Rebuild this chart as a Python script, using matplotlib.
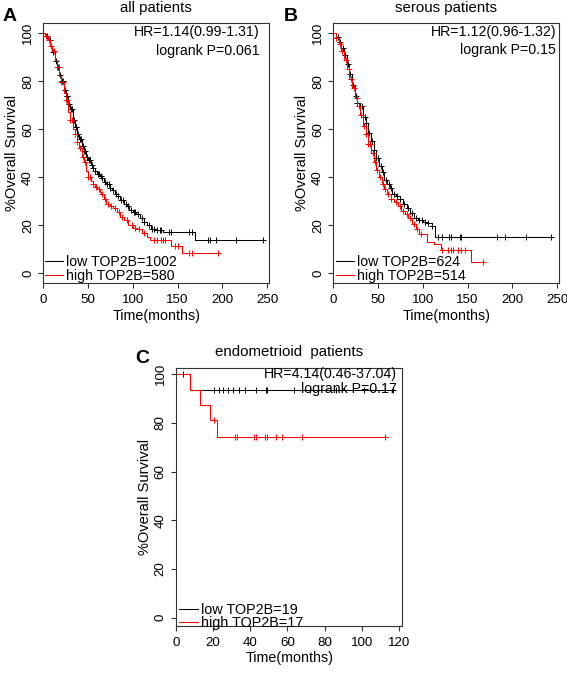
import numpy as np
import matplotlib.pyplot as plt

plt.rcParams['font.family'] = ['Liberation Sans', 'DejaVu Sans']

# ================== data ==================
# A: all patients
a_low_t = [0, 2, 5, 8, 10, 13, 15, 18, 20, 23, 25, 28, 30, 33, 35, 38, 40, 43, 45, 48, 50, 53, 55,
           58, 60, 63, 65, 68, 70, 74, 77, 80, 83, 86, 90, 93, 96, 100, 104, 108, 112, 116, 120,
           126, 134, 169]
a_low_s = [100, 99, 97, 94.5, 92, 88.5, 86, 82.5, 80, 76.5, 74, 70.5, 68.5, 64, 61, 58, 56, 53, 51,
           48.5, 47, 45, 44, 42.5, 41.5, 40.5, 39.5, 38, 37, 35.5, 34.5, 33, 32, 30.5, 29, 28, 26.5,
           25.5, 24.5, 23, 21.5, 20, 18.5, 18, 17, 14]
a_low_end = 246
a_low_cens = [4, 7, 11, 14, 16, 19, 21, 22, 24, 26, 27, 29, 31, 32, 34, 36, 37, 39, 41, 42, 44, 46,
              47, 49, 51, 52, 54, 56, 58, 61, 62, 64, 66, 69, 71, 73, 75, 78, 81, 84, 87, 89, 92,
              95, 98, 101, 103, 106, 110, 113, 118, 121, 124, 127, 130, 132, 140, 143, 163, 166,
              184, 186, 193, 215, 246]

a_high_t = [0, 2, 5, 8, 10, 13, 15, 18, 20, 23, 25, 28, 30, 33, 35, 38, 40, 43, 45, 48, 50, 53, 55,
            58, 60, 63, 65, 68, 70, 74, 78, 82, 86, 90, 95, 100, 104, 110, 116, 119, 143, 155]
a_high_s = [100, 99, 97, 94.5, 92.5, 89, 86, 82, 79.5, 75, 72, 67, 64, 60, 58, 54.5, 52, 48.5, 46.5,
            42.5, 40, 38.5, 37, 36, 35, 34, 33, 31, 29, 28, 27, 25.5, 23.5, 22, 20, 19, 18.5, 16.7,
            15, 13.9, 11.4, 8.6]
a_high_end = 195
a_high_cens = [3, 6, 9, 12, 15, 17, 20, 22, 25, 27, 30, 32, 35, 38, 41, 44, 47, 50, 52, 56, 59, 62,
               66, 69, 72, 76, 80, 85, 88, 93, 99, 103, 107, 112, 124, 127, 131, 134, 136, 147,
               150, 163, 166, 195]

# B: serous patients
b_low_t = [0, 3, 6, 9, 12, 15, 18, 21, 24, 27, 30, 33, 36, 39, 42, 45, 48, 51, 54, 57, 60, 63, 66,
           70, 74, 78, 82, 86, 90, 95, 100, 105, 110, 114]
b_low_s = [100, 98.5, 96.5, 94, 91, 87, 83, 78.5, 74, 71, 69.5, 65, 62.5, 58.5, 55, 51.5, 48, 44.5,
           42, 39, 37, 35.5, 33, 32, 31, 29, 27, 25, 23, 22, 21.5, 21, 19.5, 15.2]
b_low_end = 243
b_low_cens = [5, 8, 11, 13, 16, 19, 22, 25, 27, 30, 32, 35, 37, 40, 43, 45, 48, 50, 53, 56, 59, 62,
              65, 68, 71, 75, 79, 83, 88, 92, 96, 99, 102, 106, 110, 117, 122, 129, 132, 141, 143,
              183, 192, 215, 243]

b_high_t = [0, 3, 6, 9, 12, 15, 18, 21, 24, 27, 30, 33, 36, 39, 42, 45, 48, 51, 54, 57, 60, 64, 68,
            72, 76, 80, 84, 88, 92, 96, 105, 112, 120, 154]
b_high_s = [100, 98, 95.5, 92.5, 89, 85, 81, 77, 73, 69.5, 66, 61.5, 58, 54, 50, 46.5, 43, 40, 37,
            35, 33, 31, 29.5, 28, 26, 24.5, 23, 20.5, 18.5, 16.5, 13, 12, 9.5, 4.8]
b_high_end = 167
b_high_cens = [3, 7, 10, 14, 17, 20, 23, 26, 29, 31, 34, 36, 39, 41, 44, 47, 49, 52, 55, 58, 61, 65,
               70, 74, 78, 82, 86, 90, 94, 98, 121, 128, 131, 134, 139, 143, 147, 167]

# C: endometrioid patients
c_low_t = [0, 7.5]
c_low_s = [100, 93.6]
c_low_end = 117
c_low_cens = [3.6, 20.6, 23.1, 25.5, 28.1, 30.9, 34.1, 37.3, 43.1, 48.3, 48.8, 63.7, 72, 86, 101, 117]

c_high_t = [0, 7.5, 13, 18.3, 22.2]
c_high_s = [100, 93.75, 87.5, 81.25, 74.4]
c_high_end = 112.5
c_high_cens = [20.6, 31.8, 32.7, 42, 42.9, 47.9, 48.8, 53.8, 56.9, 67.7, 112.5]

y_ticks = [0, 20, 40, 60, 80, 100]
x_ticks_ab = [0, 50, 100, 150, 200, 250]
x_ticks_c = [0, 20, 40, 60, 80, 100, 120]

W, H = 567, 675
AXC = '#333333'


def draw_km(ax, t, s, t_end, cens, color, label):
    x = list(t) + [t_end]
    y = list(s) + [s[-1]]
    ax.plot(x, y, drawstyle='steps-post', color=color, lw=0.75, label=label)
    idx = np.searchsorted(t, cens, side='right') - 1
    cy = np.array(s)[idx]
    ax.plot(cens, cy, ls='none', marker='+', ms=4.5, mew=0.7, color=color)


def style_axes(ax, xt, xlim, ylim):
    ax.set_xlim(*xlim)
    ax.set_ylim(*ylim)
    ax.set_xticks(xt)
    ax.set_xticklabels([str(v) for v in xt], fontsize=9.6)
    ax.set_yticks(y_ticks)
    ax.set_yticklabels([str(v) for v in y_ticks], fontsize=9.6, rotation=90, va='center')
    for sp in ax.spines.values():
        sp.set_color(AXC)
        sp.set_linewidth(0.8)
    ax.tick_params(direction='out', length=3.6, width=0.8, color=AXC, pad=4)
    ax.tick_params(axis='y', pad=3)
    ax.set_xlabel('Time(months)', fontsize=10.3, labelpad=2)
    ax.set_ylabel('%Overall Survival', fontsize=10.5, labelpad=2)


def px_axes(left, top, right, bottom):
    return [left / W, 1 - bottom / H, (right - left) / W, (bottom - top) / H]


fig = plt.figure(figsize=(5.67, 6.75), dpi=100)

# ---------- A ----------
axA = fig.add_axes(px_axes(43.3, 22.7, 269.3, 283.3))
draw_km(axA, a_low_t, a_low_s, a_low_end, a_low_cens, 'black', 'low TOP2B=1002')
draw_km(axA, a_high_t, a_high_s, a_high_end, a_high_cens, 'red', 'high TOP2B=580')
style_axes(axA, x_ticks_ab, (0, 252.5), (-4.17, 104.4))
axA.set_title('all patients', fontsize=10.8, pad=7.5)
axA.text(0.956, 0.964, 'HR=1.14(0.99-1.31)', transform=axA.transAxes, ha='right', va='center', fontsize=10.2)
axA.text(0.956, 0.892, 'logrank P=0.061', transform=axA.transAxes, ha='right', va='center', fontsize=10.2)
axA.legend(loc='lower left', bbox_to_anchor=(0.0075, 0.002), frameon=False, fontsize=10.2,
           handlelength=1.25, handletextpad=0.25, labelspacing=0.0, borderaxespad=0, borderpad=0)

# ---------- B ----------
axB = fig.add_axes(px_axes(333.3, 22.7, 559.3, 283.3))
draw_km(axB, b_low_t, b_low_s, b_low_end, b_low_cens, 'black', 'low TOP2B=624')
draw_km(axB, b_high_t, b_high_s, b_high_end, b_high_cens, 'red', 'high TOP2B=514')
style_axes(axB, x_ticks_ab, (0, 252.5), (-4.17, 104.4))
axB.set_title('serous patients', fontsize=10.8, pad=7.5)
axB.text(0.985, 0.963, 'HR=1.12(0.96-1.32)', transform=axB.transAxes, ha='right', va='center', fontsize=10.2)
axB.text(0.985, 0.895, 'logrank P=0.15', transform=axB.transAxes, ha='right', va='center', fontsize=10.2)
axB.legend(loc='lower left', bbox_to_anchor=(0.012, 0.002), frameon=False, fontsize=10.2,
           handlelength=1.25, handletextpad=0.25, labelspacing=0.0, borderaxespad=0, borderpad=0)

# ---------- C ----------
axC = fig.add_axes(px_axes(176, 368, 402.3, 626))
axC.text(0.975, 0.977, 'HR=4.14(0.46-37.04)', transform=axC.transAxes, ha='right', va='center', fontsize=10.2)
axC.text(0.975, 0.917, 'logrank P=0.17', transform=axC.transAxes, ha='right', va='center', fontsize=10.2)
draw_km(axC, c_low_t, c_low_s, c_low_end, c_low_cens, 'black', 'low TOP2B=19')
draw_km(axC, c_high_t, c_high_s, c_high_end, c_high_cens, 'red', 'high TOP2B=17')
style_axes(axC, x_ticks_c, (0, 121.8), (-3.4, 102.6))
axC.set_title('endometrioid  patients', fontsize=10.8, pad=8.5)
axC.legend(loc='lower left', bbox_to_anchor=(0.013, -0.015), frameon=False, fontsize=10.4,
           handlelength=1.3, handletextpad=0.2, labelspacing=-0.05, borderaxespad=0, borderpad=0)

# panel letters
fig.text(3 / W, 1 - 20.7 / H, 'A', fontsize=14, fontweight='bold', ha='left', va='baseline')
fig.text(283.3 / W, 1 - 20.7 / H, 'B', fontsize=14, fontweight='bold', ha='left', va='baseline')
fig.text(135 / W, 1 - 363.3 / H, 'C', fontsize=14, fontweight='bold', ha='left', va='baseline')

fig.savefig('out.png', dpi=100)
